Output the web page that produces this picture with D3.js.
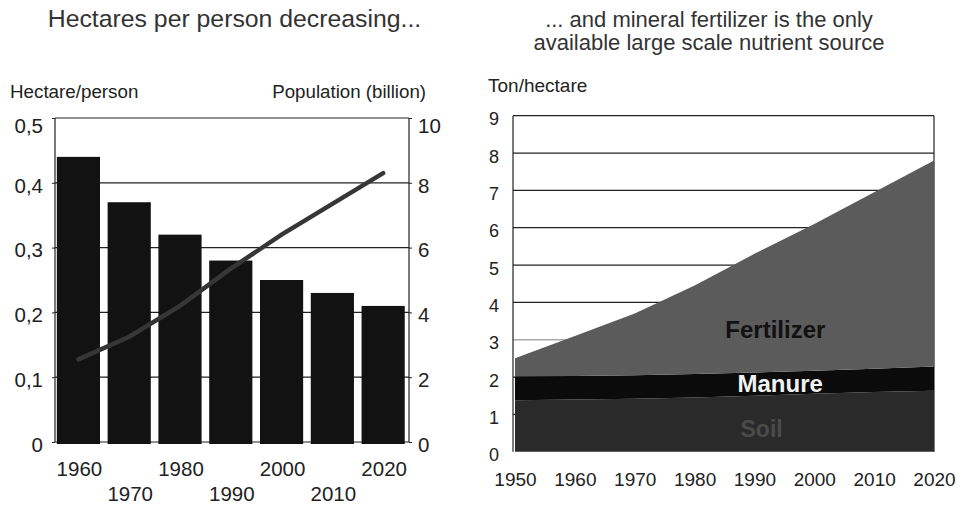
<!DOCTYPE html>
<html>
<head>
<meta charset="utf-8">
<script src="https://cdn.jsdelivr.net/npm/d3@7/dist/d3.min.js"></script>
<style>
  html, body { margin: 0; padding: 0; background: #fff; }
  svg { display: block; font-family: "Liberation Sans", Arial, Helvetica, sans-serif; }
  .tick line { stroke: #222; }
  .domain { display: none; }
</style>
</head>
<body>
<svg id="chart" width="961" height="507"></svg>
<script>
// ---- Left panel: land per person (bars) and world population (line) ----
const decades = [1960, 1970, 1980, 1990, 2000, 2010, 2020];
const hectaresPerPerson = [0.44, 0.37, 0.32, 0.28, 0.25, 0.23, 0.21];
const populationBillion = [2.55, 3.25, 4.2, 5.35, 6.4, 7.35, 8.3];
const hectareTicks = [0, 0.1, 0.2, 0.3, 0.4, 0.5];
const populationTicks = [0, 2, 4, 6, 8, 10];

// ---- Right panel: nutrient sources, ton per hectare ----
const sourceYears = [1950, 1960, 1970, 1980, 1990, 2000, 2010, 2020];
const soil = [1.38, 1.40, 1.42, 1.45, 1.50, 1.55, 1.60, 1.63];
const manure = [0.64, 0.63, 0.63, 0.63, 0.62, 0.62, 0.62, 0.65];
const fertilizer = [0.48, 1.07, 1.65, 2.37, 3.18, 3.93, 4.73, 5.52];
const tonTicks = [0, 1, 2, 3, 4, 5, 6, 7, 8, 9];
const yearTicks = [1950, 1960, 1970, 1980, 1990, 2000, 2010, 2020];

const svg = d3.select("#chart");
const ink = "#222";

// ================= Left panel =================
const L = { left: 55, right: 409, top: 118, bottom: 442 };
const gL = svg.append("g");

const xBand = d3.scaleBand().domain(decades)
  .range([L.left, L.right]).paddingInner(0.15).paddingOuter(0.06).align(0.3);
const yHa = d3.scaleLinear().domain([0, 0.5]).range([L.bottom, L.top]);
const yPop = d3.scaleLinear().domain([0, 10]).range([L.bottom, L.top]);

// horizontal grid
gL.append("g").selectAll("line").data(hectareTicks).join("line")
  .attr("x1", L.left).attr("x2", L.right)
  .attr("y1", d => yHa(d)).attr("y2", d => yHa(d))
  .attr("stroke", ink).attr("stroke-width", 1.2);

// frame sides
gL.append("line").attr("x1", L.left).attr("x2", L.left)
  .attr("y1", L.top).attr("y2", L.bottom).attr("stroke", ink).attr("stroke-width", 1.2);
gL.append("line").attr("x1", L.right).attr("x2", L.right)
  .attr("y1", L.top).attr("y2", L.bottom).attr("stroke", ink).attr("stroke-width", 1.2);

// bars
gL.append("g").selectAll("rect").data(decades).join("rect")
  .attr("x", d => xBand(d))
  .attr("width", xBand.bandwidth())
  .attr("y", (d, i) => yHa(hectaresPerPerson[i]))
  .attr("height", (d, i) => yHa(0) - yHa(hectaresPerPerson[i]) + 2)
  .attr("fill", "#121212");

// population line
const popLine = d3.line()
  .x((d, i) => xBand(decades[i]) + xBand.bandwidth() / 2)
  .y(d => yPop(d));
gL.append("path").datum(populationBillion)
  .attr("d", popLine)
  .attr("fill", "none").attr("stroke", "#363636")
  .attr("stroke-width", 4.5).attr("stroke-linecap", "round");

// left axis
const fmtHa = d => d === 0 ? "0" : d3.format(".1f")(d).replace(".", ",");
gL.append("g").attr("transform", `translate(${L.left},0)`)
  .call(d3.axisLeft(yHa).tickValues(hectareTicks).tickFormat(fmtHa).tickSize(3).tickPadding(9))
  .call(g => g.selectAll("text").attr("font-size", 20.5).attr("fill", ink)
    .attr("dy", d => d === 0.5 ? "0.7em" : "0.45em"));

// right axis
gL.append("g").attr("transform", `translate(${L.right},0)`)
  .call(d3.axisRight(yPop).tickValues(populationTicks).tickSize(3).tickPadding(6))
  .call(g => g.selectAll("text").attr("font-size", 20.5).attr("fill", ink)
    .attr("dy", d => d === 10 ? "0.7em" : "0.45em"));

// bottom labels, alternating rows
gL.append("g").attr("transform", `translate(1,${L.bottom})`)
  .call(d3.axisBottom(xBand).tickSize(0).tickPadding(0))
  .call(g => g.selectAll("text")
    .attr("font-size", 20.5).attr("fill", ink)
    .attr("dy", (d, i) => i % 2 === 0 ? 34 : 59)
    .attr("y", 0));

// axis titles
gL.append("text").attr("x", 10).attr("y", 98).attr("font-size", 18.8).attr("fill", ink)
  .text("Hectare/person");
gL.append("text").attr("x", 426).attr("y", 98).attr("font-size", 18.7).attr("fill", ink)
  .attr("text-anchor", "end").text("Population (billion)");

// panel title
svg.append("text").attr("x", 234.5).attr("y", 27).attr("font-size", 24.8).attr("fill", "#333")
  .attr("text-anchor", "middle").text("Hectares per person decreasing...");

// ================= Right panel =================
const R = { left: 513, right: 934, top: 115.7, bottom: 451.7 };
const gR = svg.append("g");

const xYear = d3.scaleLinear().domain([1950, 2020]).range([515, R.right]);
const yTon = d3.scaleLinear().domain([0, 9]).range([R.bottom, R.top]);

// grid
gR.append("g").selectAll("line").data(tonTicks.filter(d => d > 0)).join("line")
  .attr("x1", R.left).attr("x2", R.right)
  .attr("y1", d => yTon(d)).attr("y2", d => yTon(d))
  .attr("stroke", d => d === 3 ? "#aaa" : ink).attr("stroke-width", d => d === 3 ? 1.6 : 1.2);
gR.append("line").attr("x1", R.right).attr("x2", R.right)
  .attr("y1", R.top).attr("y2", R.bottom).attr("stroke", ink).attr("stroke-width", 1.2);

// stacked areas
const rows = sourceYears.map((yr, i) => ({ year: yr, soil: soil[i], manure: manure[i], fertilizer: fertilizer[i] }));
const keys = ["soil", "manure", "fertilizer"];
const layers = d3.stack().keys(keys)(rows);
const fills = { soil: "#2a2a2a", manure: "#0b0b0b", fertilizer: "#5b5b5b" };
const area = d3.area()
  .x(d => xYear(d.data.year))
  .y0(d => yTon(d[0]))
  .y1(d => yTon(d[1]));
gR.append("g").selectAll("path").data(layers).join("path")
  .attr("d", area).attr("fill", d => fills[d.key]);

// left axis line
gR.append("line").attr("x1", R.left).attr("x2", R.left)
  .attr("y1", R.top).attr("y2", R.bottom).attr("stroke", ink).attr("stroke-width", 1.2);

// y labels
gR.append("g").attr("transform", `translate(${R.left},0)`)
  .call(d3.axisLeft(yTon).tickValues(tonTicks).tickSize(0).tickPadding(14))
  .call(g => g.selectAll("text").attr("font-size", 18).attr("fill", ink).attr("dy", "0.5em"));

// x labels
gR.append("g").attr("transform", `translate(0,${R.bottom})`)
  .call(d3.axisBottom(xYear).tickValues(yearTicks).tickFormat(d3.format("d")).tickSize(0).tickPadding(0))
  .call(g => g.selectAll("text").attr("font-size", 19).attr("fill", ink).attr("dy", 34).attr("y", 0));

// layer labels
const layerLabels = [
  { text: "Fertilizer", year: 1993.5, value: 3.05, size: 24, color: "#111" },
  { text: "Manure", year: 1994.3, value: 1.6, size: 24, color: "#f2f2f2" },
  { text: "Soil", year: 1991.2, value: 0.4, size: 23, color: "#4a4a4a" }
];
gR.append("g").selectAll("text").data(layerLabels).join("text")
  .attr("x", d => xYear(d.year)).attr("y", d => yTon(d.value))
  .attr("text-anchor", "middle").attr("font-weight", "bold").attr("font-size", d => d.size)
  .attr("fill", d => d.color).text(d => d.text);

gR.append("text").attr("x", 488).attr("y", 92).attr("font-size", 19).attr("fill", ink)
  .text("Ton/hectare");

// panel title, two lines
svg.append("text").attr("x", 709).attr("y", 27).attr("font-size", 22).attr("fill", "#333")
  .attr("text-anchor", "middle")
  .selectAll("tspan").data(["... and mineral fertilizer is the only", "available large scale nutrient source"])
  .join("tspan").attr("x", 709).attr("dy", (d, i) => i === 0 ? 0 : 23).text(d => d);
</script>
</body>
</html>
